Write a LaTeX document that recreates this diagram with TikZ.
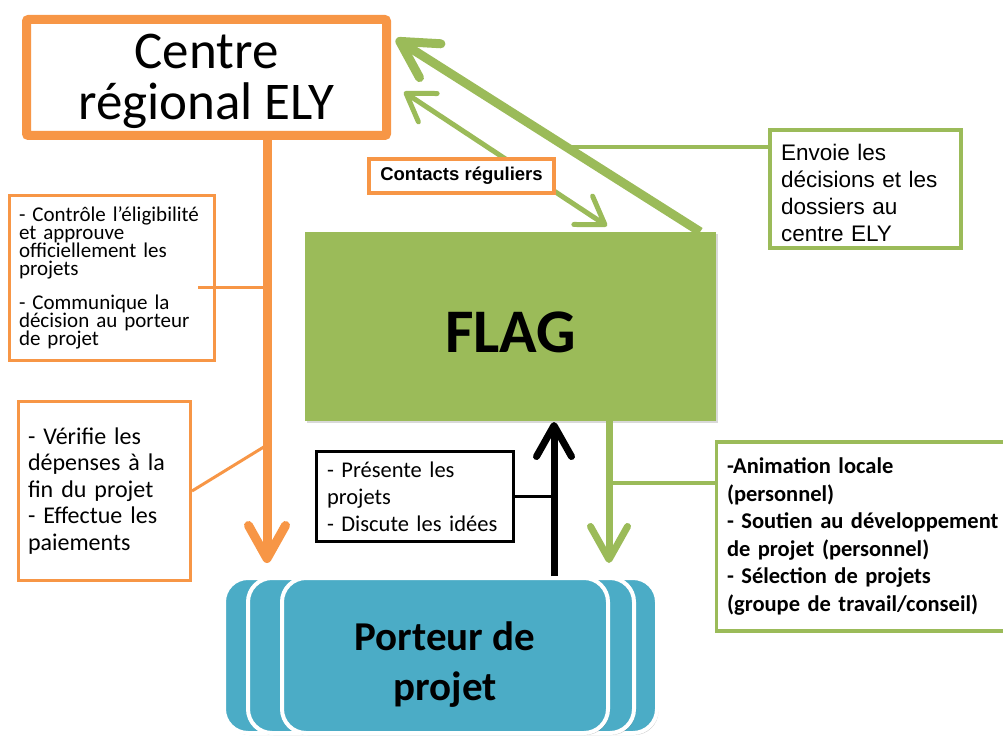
\documentclass[tikz,border=0pt]{standalone}
\usepackage{fontspec}
\setmainfont{Carlito}
\newfontfamily\arialf{Liberation Sans}
\usetikzlibrary{arrows.meta,shadows,calc}
\definecolor{orng}{HTML}{F79646}
\definecolor{grn}{HTML}{9BBB59}
\definecolor{tealc}{HTML}{4BACC6}
\begin{document}
\begin{tikzpicture}[x=1pt,y=-1pt,
  obox/.style={draw=orng, line width=3pt, fill=white, align=left, inner ysep=0pt},
  gbox/.style={draw=grn, line width=3.5pt, fill=white, align=left, inner ysep=0pt},
  porbox/.style={draw=white, line width=4pt, fill=tealc, rounded corners=24pt,
     minimum height=155pt,
     drop shadow={shadow xshift=1.5pt, shadow yshift=-2pt, opacity=0.35, fill=black!60}},
  barb/.style={-{Straight Barb[length=#1,width=#1+4pt,round]}},
]
\useasboundingbox (0,0) rectangle (1003,738);

% Porteur de projet (stacked)
\node[porbox, minimum width=433pt] (por3) at (440.5,655.5) {};
\node[porbox, minimum width=386pt] (por2) at (441,655.5) {};
\node[porbox, minimum width=326pt,
  label={[font=\bfseries\fontsize{41}{50}\selectfont, align=center, yshift=-9pt]center:{Porteur de\\projet}}]
  (por) at (445,655.5) {};

% FLAG
\node[fill=grn, minimum width=411pt, minimum height=189pt, inner sep=0pt,
  drop shadow={shadow xshift=2pt, shadow yshift=-2pt, opacity=0.25, fill=black!60},
  label={[font=\bfseries\fontsize{62}{62}\selectfont, yshift=-6pt]center:FLAG}]
  (flag) at (510.5,326.5) {};

% Centre regional ELY
\node[draw=orng, line width=9pt, fill=white, rounded corners=2pt, minimum width=360pt,
  minimum height=116pt, inner sep=0pt,
  label={[align=center, font=\fontsize{53}{51}\selectfont, yshift=-4pt]center:{Centre\\régional ELY}}]
  (ely) at (206.5,77.5) {};

% orange arrow ELY -> Porteur
\coordinate (otip) at (267,563);
\draw[orng, line width=9pt, barb=33pt] (ely.south -| otip) -- (otip);

% orange boxes
\node[obox, text width=186pt, inner xsep=9.5pt, minimum height=165pt,
  font=\fontsize{21}{18}\selectfont] (c1) at (112,278)
  {- Contrôle l’éligibilité\\et approuve\\officiellement les\\projets\\[15pt]- Communique la\\décision au porteur\\de projet};
\node[obox, text width=153pt, inner xsep=9.5pt, minimum height=179pt,
  font=\fontsize{24}{26.5}\selectfont] (c2) at (104.5,491)
  {- Vérifie les\\dépenses à la\\fin du projet\\- Effectue les\\paiements};
\coordinate (o1) at (198,287);
\draw[orng, line width=3pt] (o1) -- (o1 -| otip);
\draw[orng, line width=3pt] (c2.east) -- (otip |- 0,445);

% green arrows to ELY
\coordinate (gA) at ($(flag.north east)+(-16,0)$);
\coordinate (gT) at (396,39);
\draw[grn, line width=9pt, barb=36pt] (gA) -- (gT);
\coordinate (tA) at (404,92);
\coordinate (tB) at (607,226);
\draw[grn, line width=5pt, {Straight Barb[length=26pt,width=34pt,round]}-{Straight Barb[length=26pt,width=34pt,round]}] (tA) -- (tB);

\node[draw=orng, line width=3.5pt, fill=white, minimum width=185pt, minimum height=34pt,
  inner sep=0pt, font=\arialf\bfseries\fontsize{18.5}{20}\selectfont]
  (contacts) at (461.5,176) {Contacts réguliers};

\node[draw=grn, line width=3.5pt, fill=white, minimum width=191pt, minimum height=118pt, inner sep=0pt,
  label={[align=left, text width=169pt, inner sep=0pt, font=\arialf\fontsize{22.5}{27}\selectfont, yshift=-3.5pt]center:{Envoie les\\décisions et les\\dossiers au\\centre ELY}}]
  (env) at (865.5,189) {};
\coordinate (e1) at (566,147);
\draw[grn, line width=3.5pt] (e1) -- (e1 -| env.west);

% green down arrow
\coordinate (gtip) at (609,563);
\draw[grn, line width=7pt, barb=33pt] (flag.south -| gtip) -- (gtip);
\node[gbox, text width=282pt, inner xsep=10.5pt, minimum height=189pt,
  font=\bfseries\fontsize{22.5}{27.6}\selectfont] (act) at (868,536.5)
  {-Animation locale\\(personnel)\\- Soutien au développement\\de projet (personnel)\\- Sélection de projets\\(groupe de travail/conseil)};
\draw[grn, line width=3.5pt] (gtip |- 0,483) -- (act.west |- 0,483);

% black arrow Porteur -> FLAG
\coordinate (btip) at (554,422);
\draw[black, line width=7pt, barb=31pt] (por.north -| btip) -- (btip);
\node[draw=black, line width=3pt, fill=white, text width=176pt, inner xsep=10.5pt,
  minimum height=90pt, inner ysep=0pt, align=left, font=\fontsize{22.5}{27}\selectfont]
  (pres) at (415,496.5) {- Présente les\\projets\\- Discute les idées};
\draw[black, line width=3pt] (pres.east) -- (pres.east -| btip);
\end{tikzpicture}
\end{document}
